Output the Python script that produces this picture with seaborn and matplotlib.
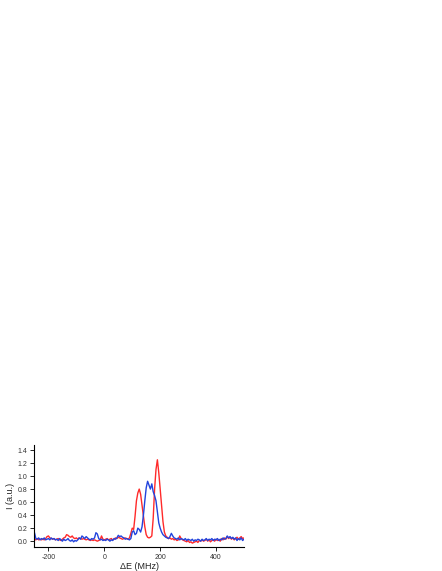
import numpy as np
import pandas as pd
import seaborn as sns
import matplotlib.pyplot as plt

# detuning grid in MHz (5 MHz steps, -250 .. 500)
energy = np.arange(-250, 505, 5)

red = [
    0.03, 0.02, 0.04, 0.02, 0.03, 0.02, 0.03, 0.02, 0.04, 0.07,
    0.08, 0.05, 0.04, 0.03, 0.04, 0.02, 0.03, 0.04, 0.02, 0.01,
    0.03, 0.05, 0.06, 0.10, 0.09, 0.07, 0.06, 0.08, 0.05, 0.04,
    0.05, 0.03, 0.05, 0.04, 0.03, 0.04, 0.03, 0.02, 0.03, 0.02,
    0.01, 0.02, 0.01, 0.02, 0.01, 0.00, 0.01, 0.02, 0.08, 0.03,
    0.02, 0.03, 0.04, 0.02, 0.03, 0.04, 0.02, 0.03, 0.05, 0.04,
    0.06, 0.05, 0.04, 0.03, 0.04, 0.05, 0.04, 0.03, 0.05, 0.12,
    0.20, 0.18, 0.38, 0.62, 0.74, 0.80, 0.72, 0.55, 0.38, 0.22,
    0.10, 0.06, 0.05, 0.06, 0.08, 0.35, 0.80, 1.10, 1.25, 1.05,
    0.80, 0.55, 0.30, 0.14, 0.08, 0.06, 0.04, 0.05, 0.03, 0.04,
    0.02, 0.03, 0.01, 0.02, 0.08, 0.04, 0.02, 0.01, 0.00, -0.01,
    0.01, -0.02, -0.01, -0.03, -0.02, -0.01, 0.00, -0.02, 0.01, 0.00,
    0.02, 0.00, 0.01, 0.03, 0.00, 0.02, -0.01, 0.01, 0.02, 0.00,
    0.03, 0.01, 0.02, 0.00, 0.04, 0.02, 0.05, 0.03, 0.07, 0.04,
    0.06, 0.03, 0.05, 0.02, 0.04, 0.06, 0.03, 0.05, 0.07, 0.04,
    0.05,
]

blue = [
    0.13, 0.04, 0.03, 0.05, 0.02, 0.04, 0.03, 0.05, 0.02, 0.03,
    0.04, 0.02, 0.05, 0.03, 0.04, 0.02, 0.03, 0.01, 0.04, 0.02,
    0.00, 0.03, 0.01, 0.02, 0.04, 0.01, 0.00, 0.02, -0.01, 0.01,
    0.00, 0.02, 0.05, 0.03, 0.08, 0.06, 0.04, 0.07, 0.05, 0.03,
    0.02, 0.04, 0.03, 0.05, 0.13, 0.11, 0.04, 0.02, 0.03, 0.01,
    0.02, 0.01, 0.03, 0.02, 0.00, 0.02, 0.01, 0.04, 0.03, 0.05,
    0.09, 0.07, 0.08, 0.06, 0.05, 0.03, 0.04, 0.03, 0.02, 0.04,
    0.14, 0.16, 0.10, 0.12, 0.20, 0.18, 0.14, 0.22, 0.40, 0.62,
    0.82, 0.92, 0.86, 0.80, 0.88, 0.76, 0.70, 0.62, 0.45, 0.28,
    0.20, 0.14, 0.10, 0.08, 0.06, 0.05, 0.04, 0.07, 0.12, 0.08,
    0.05, 0.04, 0.03, 0.05, 0.02, 0.04, 0.03, 0.02, 0.04, 0.01,
    0.03, 0.02, 0.01, 0.03, 0.00, 0.02, 0.01, 0.03, 0.02, 0.00,
    0.03, 0.01, 0.02, 0.04, 0.01, 0.03, 0.02, 0.04, 0.01, 0.03,
    0.02, 0.04, 0.01, 0.03, 0.02, 0.05, 0.03, 0.04, 0.08, 0.05,
    0.07, 0.04, 0.06, 0.03, 0.05, 0.01, 0.04, 0.02, 0.05, 0.01,
    0.03,
]

df = pd.DataFrame({"dE": np.concatenate([energy, energy]),
                   "I": red + blue,
                   "trace": ["red"] * len(red) + ["blue"] * len(blue)})

sns.set_style("ticks")
plt.rcParams["font.family"] = ["Liberation Sans", "DejaVu Sans"]
plt.rcParams["axes.unicode_minus"] = False

fig = plt.figure(figsize=(4.42, 5.71), dpi=100)
ax = fig.add_axes([0.078, 0.042, 0.474, 0.179])

sns.lineplot(data=df, x="dE", y="I", hue="trace",
             palette={"red": "#ff2a2a", "blue": "#2244dd"},
             linewidth=1.0, legend=False, ax=ax)

ax.set_xlim(-250, 500)
ax.set_ylim(-0.09, 1.48)
ax.set_xticks([-200, 0, 200, 400])
ax.set_yticks([0.0, 0.2, 0.4, 0.6, 0.8, 1.0, 1.2, 1.4])
ax.set_yticklabels(["0.0", "0.2", "0.4", "0.6", "0.8", "1.0", "1.2", "1.4"])
ax.tick_params(labelsize=5, length=3, width=0.6, pad=2,
               color="black", labelcolor="#333333")
ax.set_xlabel("ΔE (MHz)", fontsize=6.5, labelpad=1, color="#222222")
ax.set_ylabel("I (a.u.)", fontsize=6.5, labelpad=2, color="#222222")
for s in ["left", "bottom"]:
    ax.spines[s].set_linewidth(0.8)
    ax.spines[s].set_color("black")
sns.despine(ax=ax)

fig.savefig("out.png", dpi=100)
